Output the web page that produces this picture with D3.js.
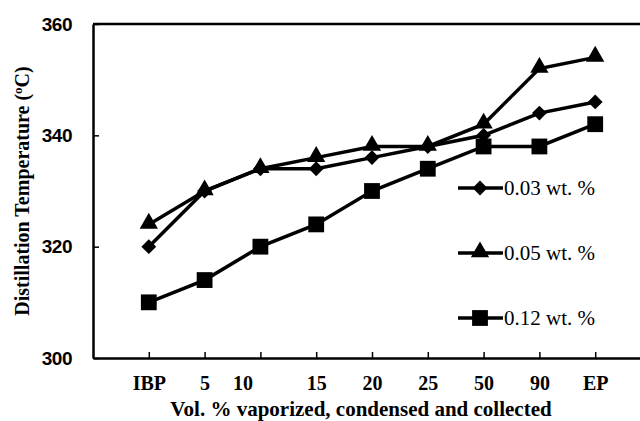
<!DOCTYPE html>
<html lang="en">
<head>
<meta charset="UTF-8" />
<title>Distillation Temperature</title>
<script src="https://d3js.org/d3.v7.min.js"></script>
<style>
    body { margin: 0; background: #fff; }
    svg { display: block; }
    .tick-y { font-family: Arial, "Liberation Sans", sans-serif; font-weight: bold; font-size: 19px; letter-spacing: -0.5px; }
    .tick-x { font-family: "Times New Roman", "Liberation Serif", serif; font-weight: bold; font-size: 20px; }
    .title { font-family: "Times New Roman", "Liberation Serif", serif; font-weight: bold; font-size: 20px; }
    .title-x { font-size: 21px; }
    .legend { font-family: "Times New Roman", "Liberation Serif", serif; font-size: 21px; }
</style>
</head>
<body>
<div id="chart"></div>
<script>
    // Data
    const categories = ["IBP", "5", "10", "15", "20", "25", "50", "90", "EP"];
    const s003 = [320, 330, 334, 334, 336, 338, 340, 344, 346];
    const s005 = [324, 330, 334, 336, 338, 338, 342, 352, 354];
    const s012 = [310, 314, 320, 324, 330, 334, 338, 338, 342];
    const seriesNames = ["0.03 wt. %", "0.05 wt. %", "0.12 wt. %"];
    const yTicks = [300, 320, 340, 360];

    const width = 640, height = 421;
    const margin = { top: 24, right: -11, bottom: 63, left: 93 };
    const plotW = width - margin.left - margin.right;
    const plotH = height - margin.top - margin.bottom;

    const svg = d3.select("#chart").append("svg")
        .attr("width", width)
        .attr("height", height);

    const g = svg.append("g")
        .attr("transform", `translate(${margin.left},${margin.top})`);

    const x = d3.scalePoint().domain(categories).range([0, plotW]).padding(1);
    const y = d3.scaleLinear().domain([300, 360]).range([plotH, 0]);

    // frame: top border
    g.append("line")
        .attr("x1", 0).attr("x2", plotW)
        .attr("y1", 0).attr("y2", 0)
        .attr("stroke", "#000").attr("stroke-width", 2.5);

    // y axis (inside ticks)
    const yAxis = g.append("g")
        .call(d3.axisLeft(y).tickValues(yTicks).tickSizeInner(-6).tickSizeOuter(0).tickPadding(21));
    yAxis.select(".domain").attr("stroke-width", 2.5);
    yAxis.selectAll(".tick line").attr("stroke-width", 1.5);
    yAxis.selectAll(".tick text").attr("class", "tick-y").attr("fill", "#000");

    // x axis (inside ticks)
    const xAxis = g.append("g")
        .attr("transform", `translate(0,${plotH})`)
        .call(d3.axisBottom(x).tickSizeInner(-6).tickSizeOuter(0).tickPadding(18));
    xAxis.select(".domain").attr("stroke-width", 2.5);
    xAxis.selectAll(".tick line").attr("stroke-width", 1.5);
    xAxis.selectAll(".tick text").attr("class", "tick-x").attr("fill", "#000")
        .attr("dx", d => d === "10" ? -18 : 0);

    // axis titles
    svg.append("text")
        .attr("class", "title title-x")
        .attr("x", 361).attr("y", 416)
        .attr("text-anchor", "middle")
        .text("Vol. % vaporized, condensed and collected");

    const yt = svg.append("text")
        .attr("class", "title")
        .attr("transform", `translate(29,${margin.top + 167}) rotate(-90)`)
        .attr("text-anchor", "middle");
    yt.append("tspan").text("Distillation Temperature (");
    yt.append("tspan").attr("dy", -7).attr("font-size", "13px").text("o");
    yt.append("tspan").attr("dy", 7).text("C)");

    // markers
    const symbols = [
        d3.symbol().type(d3.symbolDiamond2).size(140),
        d3.symbol().type(d3.symbolTriangle).size(145),
        d3.symbol().type(d3.symbolSquare).size(250)
    ];
    const allSeries = [s003, s005, s012];

    const line = d3.line()
        .x((d, i) => x(categories[i]))
        .y(d => y(d));

    // draw in order: squares bottom, then diamonds, then triangles
    [2, 0, 1].forEach(k => {
        const vals = allSeries[k];
        g.append("path")
            .datum(vals)
            .attr("fill", "none")
            .attr("stroke", "#000")
            .attr("stroke-width", 3.5)
            .attr("d", line);
        g.append("g").selectAll("path")
            .data(vals)
            .join("path")
            .attr("transform", (d, i) => `translate(${x(categories[i])},${y(d) + (k === 1 ? -1 : 0)})`)
            .attr("d", symbols[k])
            .attr("fill", "#000");
    });

    // legend
    const legendY = [188, 253, 318];
    const leg = svg.append("g");
    seriesNames.forEach((name, k) => {
        const row = leg.append("g").attr("transform", `translate(458,${legendY[k]})`);
        row.append("line")
            .attr("x1", 0).attr("x2", 45)
            .attr("stroke", "#000").attr("stroke-width", 3.5);
        row.append("path")
            .attr("transform", `translate(22,${k === 1 ? -1 : 0})`)
            .attr("d", symbols[k])
            .attr("fill", "#000");
        row.append("text")
            .attr("class", "legend")
            .attr("x", 46).attr("y", 7)
            .text(name);
    });
</script>
</body>
</html>
